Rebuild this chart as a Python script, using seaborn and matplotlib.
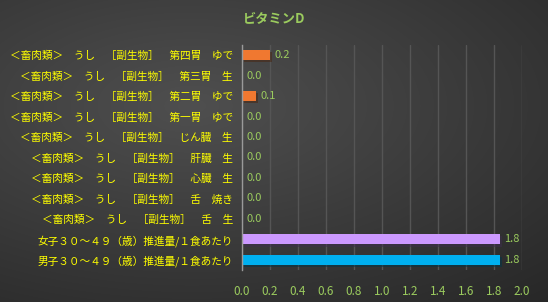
import numpy as np
import pandas as pd
import matplotlib
matplotlib.use("Agg")
import matplotlib.pyplot as plt
import matplotlib.patheffects as pe
import seaborn as sns

categories = [
    "＜畜肉類＞　うし　［副生物］　第四胃　ゆで",
    "＜畜肉類＞　うし　［副生物］　第三胃　生",
    "＜畜肉類＞　うし　［副生物］　第二胃　ゆで",
    "＜畜肉類＞　うし　［副生物］　第一胃　ゆで",
    "＜畜肉類＞　うし　［副生物］　じん臓　生",
    "＜畜肉類＞　うし　［副生物］　肝臓　生",
    "＜畜肉類＞　うし　［副生物］　心臓　生",
    "＜畜肉類＞　うし　［副生物］　舌　焼き",
    "＜畜肉類＞　うし　［副生物］　舌　生",
    "女子３０～４９（歳）推進量/１食あたり",
    "男子３０～４９（歳）推進量/１食あたり",
]
values = [0.2, 0.0, 0.1, 0.0, 0.0, 0.0, 0.0, 0.0, 0.0, 1.84, 1.84]
bar_colors = ["#F07830", "#F07830", "#F07830", "#F07830", "#F07830", "#F07830",
              "#F07830", "#F07830", "#F07830", "#CC99FF", "#00B0F0"]
xticks = [0.0, 0.2, 0.4, 0.6, 0.8, 1.0, 1.2, 1.4, 1.6, 1.8, 2.0]
title = "ビタミンD"

sns.set_theme(style="dark")
plt.rcParams['font.family'] = ['Noto Sans CJK JP', 'DejaVu Sans']

W, H = 548, 302
fig = plt.figure(figsize=(W / 100, H / 100), dpi=100)

# gradient background
bg = fig.add_axes([0, 0, 1, 1], zorder=-10)
yy, xx = np.mgrid[0:1:300j, 0:1:550j]
d = np.sqrt(((xx - 0.35) / 1.0) ** 2 + ((yy - 0.65) / 0.9) ** 2)
g = 0.31 - 0.16 * np.clip(d, 0, 1.2)
img = np.dstack([g, g, g])
bg.imshow(img, extent=[0, 1, 0, 1], origin="lower", aspect="auto")
bg.axis("off")

ax = fig.add_axes([242 / W, 1 - 270 / H, 280 / W, 225 / H])
ax.set_facecolor("none")

df = pd.DataFrame({"cat": categories, "val": values})
sns.barplot(data=df, x="val", y="cat", hue="cat", palette=bar_colors,
            legend=False, width=0.5, ax=ax, saturation=1, orient="h")

for p in ax.patches:
    p.set_path_effects([pe.SimplePatchShadow(offset=(1.5, -1.5), alpha=0.5), pe.Normal()])
    p.set_edgecolor("none")

green = "#9BCB5E"
yellow = "#FFFF00"
for i, v in enumerate(values):
    ax.text(v + 0.035, i, f"{v:.1f}", va="center", ha="left", color=green, fontsize=8)

ax.set_xlim(0, 2.0)
ax.set_ylim(len(categories) - 0.5, -0.5)
ax.set_xticks(xticks)
ax.set_xticklabels([f"{t:.1f}" for t in xticks], color=green, fontsize=8.5)
ax.tick_params(axis="y", colors=yellow, labelsize=7.7, length=0, pad=6.5)
ax.tick_params(axis="x", length=0, pad=11)
for lab in ax.get_yticklabels():
    lab.set_color(yellow)
ax.set_xlabel("")
ax.set_ylabel("")
ax.grid(axis="x", color="#555555", linewidth=1.0)
ax.grid(axis="y", visible=False)
ax.set_axisbelow(True)
for s in ["top", "right", "bottom"]:
    ax.spines[s].set_visible(False)
ax.spines["left"].set_color("#9a9a9a")
ax.spines["left"].set_linewidth(1.0)

fig.text(0.5, 1 - 19 / H, title, ha="center", va="center", color=green,
         fontsize=9.5, fontweight="bold")

fig.savefig("out.png", dpi=100)
